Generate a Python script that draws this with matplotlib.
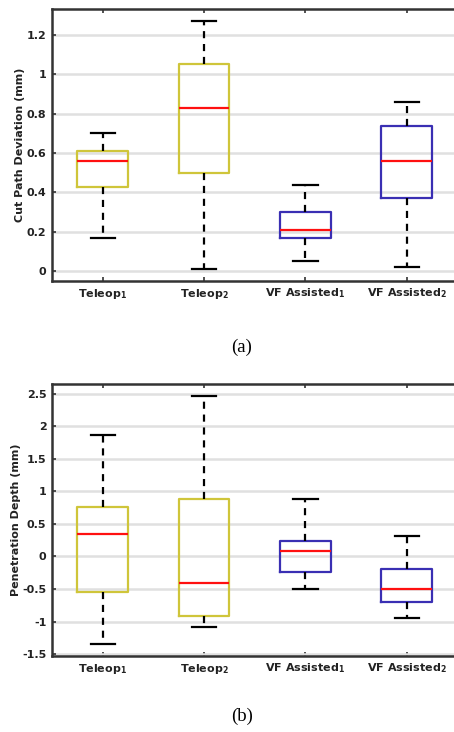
import matplotlib
matplotlib.use("Agg")
import matplotlib.pyplot as plt

# --- Data ---
GROUPS = [r"Teleop$_\mathbf{1}$", r"Teleop$_\mathbf{2}$",
          r"VF Assisted$_\mathbf{1}$", r"VF Assisted$_\mathbf{2}$"]

# whisker low, q1, median, q3, whisker high
CUT_LOW = [0.17, 0.01, 0.05, 0.02]
CUT_Q1 = [0.43, 0.50, 0.17, 0.37]
CUT_MED = [0.56, 0.83, 0.21, 0.56]
CUT_Q3 = [0.61, 1.055, 0.30, 0.74]
CUT_HIGH = [0.70, 1.27, 0.44, 0.86]

PEN_LOW = [-1.345, -1.085, -0.505, -0.95]
PEN_Q1 = [-0.54, -0.92, -0.233, -0.695]
PEN_MED = [0.346, -0.413, 0.085, -0.505]
PEN_Q3 = [0.767, 0.88, 0.244, -0.197]
PEN_HIGH = [1.87, 2.47, 0.885, 0.32]

BOX_COLORS = ["#cfc53a", "#cfc53a", "#3a2fb3", "#3a2fb3"]

plt.rcParams['font.family'] = 'DejaVu Sans'
plt.rcParams['mathtext.fontset'] = 'dejavusans'


def draw_panel(ax, low, q1, med, q3, high, ylabel, yticks, yticklabels, ylim):
    stats = []
    for i in range(len(GROUPS)):
        stats.append({'whislo': low[i], 'q1': q1[i], 'med': med[i],
                      'q3': q3[i], 'whishi': high[i], 'fliers': []})
    bp = ax.bxp(stats, positions=[1, 2, 3, 4], widths=0.5, capwidths=0.24,
                showfliers=False, patch_artist=False,
                boxprops=dict(linewidth=1.6),
                medianprops=dict(color='#ff1010', linewidth=1.6),
                whiskerprops=dict(color='black', linewidth=1.6, linestyle=(0, (3.2, 2.6))),
                capprops=dict(color='black', linewidth=1.6))
    for i, b in enumerate(bp['boxes']):
        b.set_color(BOX_COLORS[i])
    ax.set_xlim(0.5, 4.5)
    ax.set_ylim(*ylim)
    ax.set_yticks(yticks)
    ax.set_yticklabels(yticklabels)
    ax.set_xticks([1, 2, 3, 4])
    ax.set_xticklabels(GROUPS)
    ax.yaxis.grid(True, color='#e0e0e0', linewidth=1.8)
    ax.set_axisbelow(True)
    ax.tick_params(direction='in', length=3, width=1.2, top=True, right=True,
                   labelsize=8, color='#333333', pad=4)
    for lab in ax.get_xticklabels() + ax.get_yticklabels():
        lab.set_fontweight('bold')
        lab.set_color('#222222')
    for sp in ax.spines.values():
        sp.set_linewidth(1.8)
        sp.set_color('#333333')
    ax.set_ylabel(ylabel, fontsize=8, fontweight='bold', color='#222222', labelpad=1)


fig = plt.figure(figsize=(4.54, 7.32), dpi=100)
W, H = 454.0, 732.0

ax1 = fig.add_axes([52 / W, 1 - 281 / H, 405.5 / W, 272 / H])
draw_panel(ax1, CUT_LOW, CUT_Q1, CUT_MED, CUT_Q3, CUT_HIGH,
           'Cut Path Deviation (mm)',
           [0, 0.2, 0.4, 0.6, 0.8, 1.0, 1.2],
           ['0', '0.2', '0.4', '0.6', '0.8', '1', '1.2'],
           (-0.05, 1.332))

ax2 = fig.add_axes([52 / W, 1 - 656 / H, 405.5 / W, 272.5 / H])
draw_panel(ax2, PEN_LOW, PEN_Q1, PEN_MED, PEN_Q3, PEN_HIGH,
           'Penetration Depth (mm)',
           [-1.5, -1, -0.5, 0, 0.5, 1, 1.5, 2, 2.5],
           ['-1.5', '-1', '-0.5', '0', '0.5', '1', '1.5', '2', '2.5'],
           (-1.53, 2.66))

fig.text(242 / W, 1 - 347 / H, '(a)', fontsize=13.5, family='Liberation Serif',
         ha='center', va='center')
fig.text(242 / W, 1 - 716 / H, '(b)', fontsize=13.5, family='Liberation Serif',
         ha='center', va='center')

fig.savefig('out.png', dpi=100)
